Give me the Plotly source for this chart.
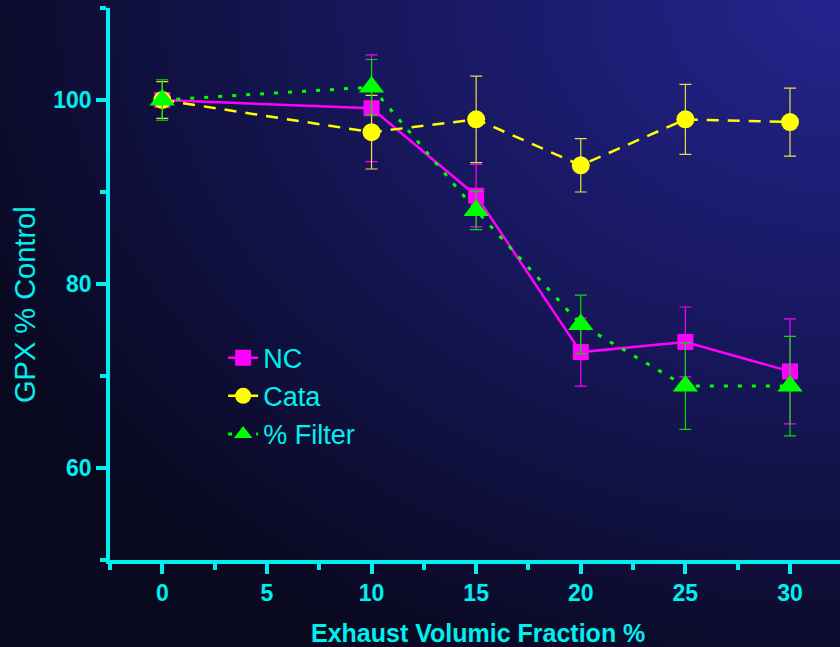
import base64
import plotly.graph_objects as go

# ---- data ----
x_vals = [0, 10, 15, 20, 25, 30]
nc = [100.0, 99.1, 89.6, 72.6, 73.7, 70.5]
nc_err = [0.8, 5.8, 3.4, 3.7, 3.8, 5.7]
cata = [100.0, 96.5, 97.9, 92.9, 97.9, 97.6]
cata_err = [2.0, 4.0, 4.7, 2.9, 3.8, 3.7]
filt = [100.0, 101.4, 88.0, 75.6, 68.9, 68.9]
filt_err = [2.2, 3.0, 2.1, 3.2, 4.7, 5.4]
series_names = ["NC", "Cata", "% Filter"]
x_ticks = [0, 5, 10, 15, 20, 25, 30]
y_ticks = [60, 80, 100]

CYAN = "#00f0f0"
FONT = "Liberation Sans, Arial, sans-serif"

W, H = 840, 647
ML, MR, MT, MB = 110, 0, 8, 87
PW, PH = W - ML - MR, H - MT - MB

svg = (
    f'<svg xmlns="http://www.w3.org/2000/svg" width="{W}" height="{H}" preserveAspectRatio="none" '
    f'viewBox="0 0 {W} {H}">'
    '<defs><radialGradient id="g" cx="1" cy="0" r="1.15" gradientUnits="objectBoundingBox">'
    '<stop offset="0" stop-color="#24248e"/>'
    '<stop offset="0.45" stop-color="#181860"/>'
    '<stop offset="1" stop-color="#08081e"/>'
    '</radialGradient></defs>'
    f'<rect x="0" y="0" width="{W}" height="{H}" fill="url(#g)"/></svg>'
)
svg_uri = "data:image/svg+xml;base64," + base64.b64encode(svg.encode()).decode()

fig = go.Figure()

fig.add_trace(go.Scatter(
    x=x_vals, y=nc, name=series_names[0], mode="lines+markers",
    line=dict(color="#ff00ff", width=2.5),
    marker=dict(symbol="square", size=16, color="#ff00ff"),
    error_y=dict(type="data", array=nc_err, color="#ff00ff", thickness=1.2, width=6),
))
fig.add_trace(go.Scatter(
    x=x_vals, y=cata, name=series_names[1], mode="lines+markers",
    line=dict(color="#ffff00", width=2.5, dash="12px,9px"),
    marker=dict(symbol="circle", size=18, color="#ffff00"),
    error_y=dict(type="data", array=cata_err, color="#e8e040", thickness=1.2, width=6),
))
fig.add_trace(go.Scatter(
    x=x_vals, y=filt, name=series_names[2], mode="lines+markers",
    line=dict(color="#00ff00", width=3, dash="4px,10px"),
    marker=dict(symbol="triangle-up", size=22, color="#00ff00"),
    error_y=dict(type="data", array=filt_err, color="#00e000", thickness=1.2, width=6),
))

fig.update_layout(
    width=W, height=H,
    margin=dict(l=ML, r=MR, t=MT, b=MB),
    paper_bgcolor="rgba(0,0,0,0)",
    plot_bgcolor="rgba(0,0,0,0)",
    font=dict(family=FONT, color=CYAN),
    showlegend=True,
    legend=dict(
        x=0.155, y=0.41, xanchor="left", yanchor="top",
        bgcolor="rgba(0,0,0,0)",
        font=dict(size=27, color=CYAN, family=FONT),
        tracegroupgap=0,
    ),
    images=[dict(
        source=svg_uri, xref="paper", yref="paper",
        x=-ML / PW, y=1 + MT / PH, sizex=W / PW, sizey=H / PH,
        xanchor="left", yanchor="top", sizing="stretch", layer="below",
    )],
    xaxis=dict(
        range=[-2.5, -2.5 + PW / (680 / 32.5)],
        tickmode="array", tickvals=x_ticks, ticktext=[str(v) for v in x_ticks],
        showgrid=False, zeroline=False,
        showline=True, linecolor=CYAN, linewidth=3.5,
        ticks="outside", ticklen=10, tickwidth=3.5, tickcolor=CYAN,
        tickfont=dict(size=23, color=CYAN, family=FONT, weight="bold"),
        minor=dict(tick0=-2.5, dtick=2.5, ticks="outside", ticklen=6, tickwidth=3.5, tickcolor=CYAN),
    ),
    yaxis=dict(
        range=[50, 110],
        tickmode="array", tickvals=y_ticks, ticktext=[str(v) for v in y_ticks],
        showgrid=False, zeroline=False,
        showline=True, linecolor=CYAN, linewidth=3.5,
        ticks="outside", ticklen=10, tickwidth=3.5, tickcolor=CYAN,
        tickfont=dict(size=23, color=CYAN, family=FONT, weight="bold"),
        minor=dict(tick0=50, dtick=10, ticks="outside", ticklen=6, tickwidth=3.5, tickcolor=CYAN),
    ),
    annotations=[
        dict(text="GPX % Control", xref="paper", yref="paper", x=0, y=0.5,
             xshift=-85, yshift=-21, textangle=-90, showarrow=False,
             xanchor="center", yanchor="middle",
             font=dict(size=29, color=CYAN, family=FONT)),
        dict(text="<b>Exhaust Volumic Fraction %</b>", xref="paper", yref="paper",
             x=(478 - ML) / PW, y=0, yshift=-73, showarrow=False,
             xanchor="center", yanchor="middle",
             font=dict(size=25, color=CYAN, family=FONT)),
    ],
)

fig.write_html(
    "out.html",
    config={"displayModeBar": False},
    post_script="document.body.style.margin='0';document.body.style.overflow='hidden';",
)
